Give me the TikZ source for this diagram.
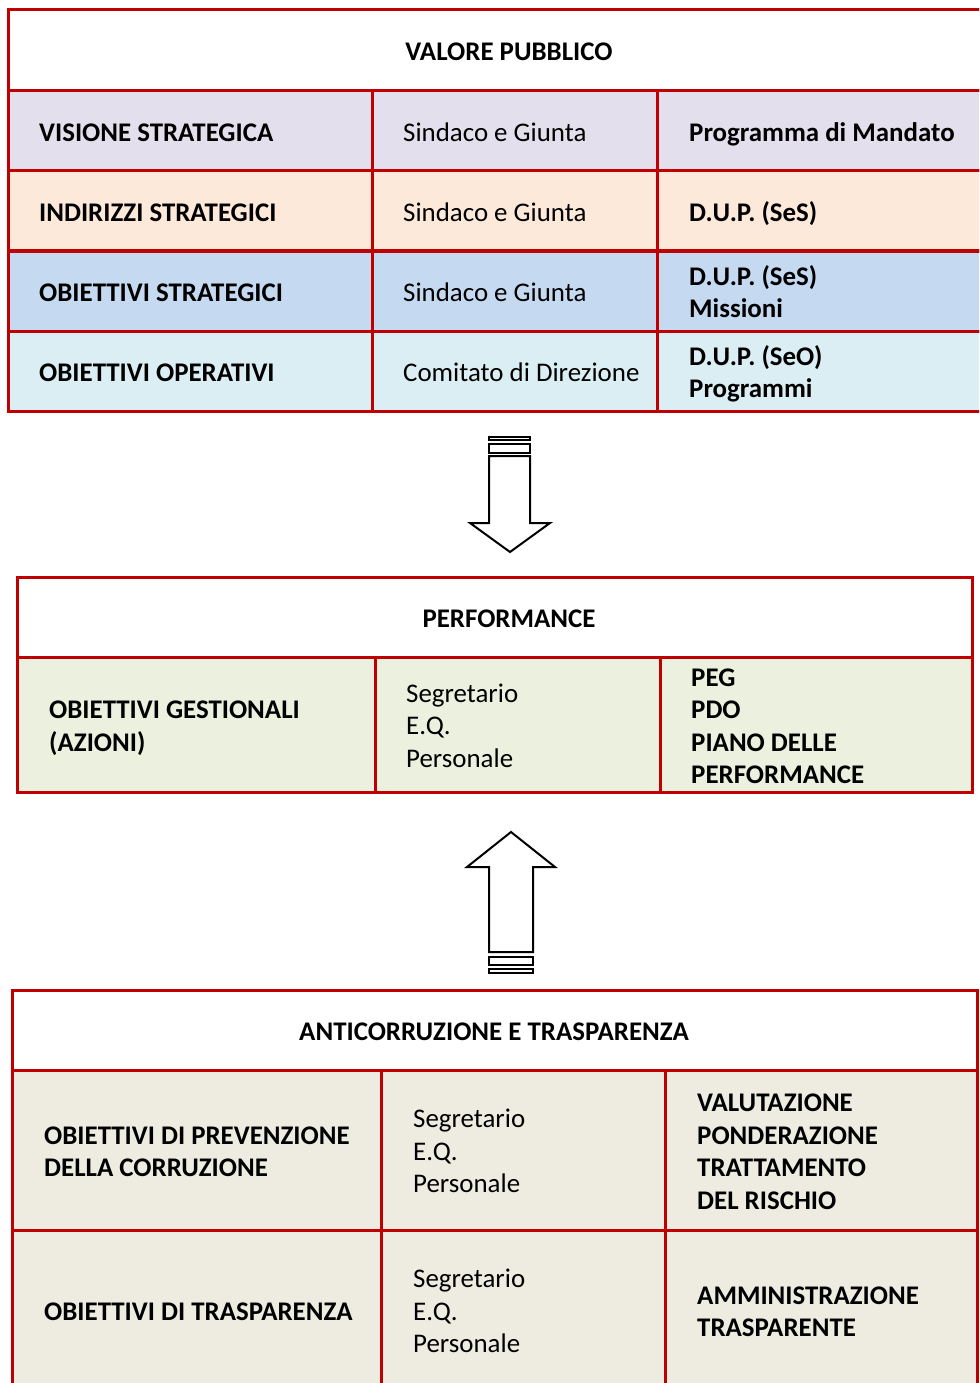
\documentclass[tikz,border=0pt]{standalone}
\usepackage{fontspec}
\setmainfont{Carlito}
\usepackage{xcolor}
\usepackage{tikz}
\usetikzlibrary{positioning}
\definecolor{tabred}{RGB}{192,0,0}
\definecolor{lilac}{RGB}{228,223,236}
\definecolor{peach}{RGB}{253,233,217}
\definecolor{skyblue}{RGB}{197,217,241}
\definecolor{paleblue}{RGB}{218,238,243}
\definecolor{palegreen}{RGB}{235,241,222}
\definecolor{beige}{RGB}{238,236,225}
\newcommand{\cellfont}{\fontsize{26.9bp}{32.5bp}\selectfont}
\newcommand{\cellstrut}{\rule[-6bp]{0pt}{32.5bp}}

\begin{document}
\begin{tikzpicture}[
      x=1bp, y=-1bp,
      cell/.style={draw=tabred, line width=3bp, anchor=north west, inner sep=0pt, outer sep=0pt},
      lbl/.style={font=\cellfont\bfseries, text width=330bp, align=flush left, inner sep=0pt, anchor=west,
        execute at begin node=\cellstrut, execute at end node=\cellstrut},
      who/.style={lbl, font=\cellfont},
      title/.style={font=\cellfont\bfseries, inner sep=0pt},
      blockarrow/.style={draw=black, line width=2bp, fill=white, line join=miter}
    ]
      \useasboundingbox (0,0) rectangle (979,1383);
      \clip (0,0) rectangle (979,1383);

      % valore pubblico
      \node[cell, fill=white, minimum width=1002bp, minimum height=81bp] (vp) at (8,10) {};
      \node[cell, fill=lilac, minimum width=364bp, minimum height=80bp] (vis) at (8,91) {};
      \node[cell, fill=lilac, minimum width=285bp, minimum height=80bp] (visWho) at (372,91) {};
      \node[cell, fill=lilac, minimum width=353bp, minimum height=80bp] (visDoc) at (657,91) {};
      \node[cell, fill=peach, minimum width=364bp, minimum height=80bp] (ind) at (8,171) {};
      \node[cell, fill=peach, minimum width=285bp, minimum height=80bp] (indWho) at (372,171) {};
      \node[cell, fill=peach, minimum width=353bp, minimum height=80bp] (indDoc) at (657,171) {};
      \node[cell, fill=skyblue, minimum width=364bp, minimum height=80bp] (obs) at (8,251) {};
      \node[cell, fill=skyblue, minimum width=285bp, minimum height=80bp] (obsWho) at (372,251) {};
      \node[cell, fill=skyblue, minimum width=353bp, minimum height=80bp] (obsDoc) at (657,251) {};
      \node[cell, fill=paleblue, minimum width=364bp, minimum height=80bp] (obo) at (8,331) {};
      \node[cell, fill=paleblue, minimum width=285bp, minimum height=80bp] (oboWho) at (372,331) {};
      \node[cell, fill=paleblue, minimum width=353bp, minimum height=80bp] (oboDoc) at (657,331) {};

      \node[title] (vpTitle) at (509,52) {VALORE PUBBLICO};
      \node[lbl, right=31bp of vis.west] (visT) {VISIONE STRATEGICA};
      \node[who, right=31bp of visWho.west] (visWhoT) {Sindaco e Giunta};
      \node[lbl, right=32bp of visDoc.west] (visDocT) {Programma di Mandato};
      \node[lbl, right=31bp of ind.west] (indT) {INDIRIZZI STRATEGICI};
      \node[who, right=31bp of indWho.west] (indWhoT) {Sindaco e Giunta};
      \node[lbl, right=32bp of indDoc.west] (indDocT) {D.U.P. (SeS)};
      \node[lbl, right=31bp of obs.west] (obsT) {OBIETTIVI STRATEGICI};
      \node[who, right=31bp of obsWho.west] (obsWhoT) {Sindaco e Giunta};
      \node[lbl, right=32bp of obsDoc.west] (obsDocT) {D.U.P. (SeS)\\Missioni};
      \node[lbl, right=31bp of obo.west] (oboT) {OBIETTIVI OPERATIVI};
      \node[who, right=31bp of oboWho.west] (oboWhoT) {Comitato di Direzione};
      \node[lbl, right=32bp of oboDoc.west] (oboDocT) {D.U.P. (SeO)\\Programmi};

      % freccia verso il basso
      \draw[blockarrow] (489,437) rectangle (530,440);
      \draw[blockarrow] (489,444) rectangle (530,453);
      \draw[blockarrow] (489,456) -- (530,456) -- (530,523) -- (550,523) -- (510,552)
        -- (470,523) -- (489,523) -- cycle;

      % performance
      \node[cell, fill=white, minimum width=955bp, minimum height=80bp] (perf) at (17,577) {};
      \node[cell, fill=palegreen, minimum width=358bp, minimum height=135bp] (ges) at (17,657) {};
      \node[cell, fill=palegreen, minimum width=285bp, minimum height=135bp] (gesWho) at (375,657) {};
      \node[cell, fill=palegreen, minimum width=312bp, minimum height=135bp] (gesDoc) at (660,657) {};

      \node[title] (perfTitle) at (509,619) {PERFORMANCE};
      \node[lbl, right=32bp of ges.west] (gesT) {OBIETTIVI GESTIONALI\\(AZIONI)};
      \node[who, right=31bp of gesWho.west] (gesWhoT) {Segretario\\E.Q.\\Personale};
      \node[lbl, right=31bp of gesDoc.west] (gesDocT) {PEG\\PDO\\PIANO DELLE\\PERFORMANCE};

      % freccia verso l'alto
      \draw[blockarrow] (511,832) -- (555,867) -- (533,867) -- (533,952) -- (489,952)
        -- (489,867) -- (467,867) -- cycle;
      \draw[blockarrow] (489,957) rectangle (533,965);
      \draw[blockarrow] (489,969) rectangle (533,973);

      % anticorruzione e trasparenza
      \node[cell, fill=white, minimum width=965bp, minimum height=80bp] (act) at (12,990) {};
      \node[cell, fill=beige, minimum width=369bp, minimum height=160bp] (prev) at (12,1070) {};
      \node[cell, fill=beige, minimum width=284bp, minimum height=160bp] (prevWho) at (381,1070) {};
      \node[cell, fill=beige, minimum width=312bp, minimum height=160bp] (prevDoc) at (665,1070) {};
      \node[cell, fill=beige, minimum width=369bp, minimum height=160bp] (tra) at (12,1230) {};
      \node[cell, fill=beige, minimum width=284bp, minimum height=160bp] (traWho) at (381,1230) {};
      \node[cell, fill=beige, minimum width=312bp, minimum height=160bp] (traDoc) at (665,1230) {};

      \node[title] (actTitle) at (494,1032) {ANTICORRUZIONE E TRASPARENZA};
      \node[lbl, right=32bp of prev.west] (prevT) {OBIETTIVI DI PREVENZIONE\\DELLA CORRUZIONE};
      \node[who, right=32bp of prevWho.west] (prevWhoT) {Segretario\\E.Q.\\Personale};
      \node[lbl, right=32bp of prevDoc.west] (prevDocT) {VALUTAZIONE\\PONDERAZIONE\\TRATTAMENTO\\DEL RISCHIO};
      \node[lbl, right=32bp of tra.west] (traT) {OBIETTIVI DI TRASPARENZA};
      \node[who, right=32bp of traWho.west] (traWhoT) {Segretario\\E.Q.\\Personale};
      \node[lbl, right=32bp of traDoc.west] (traDocT) {AMMINISTRAZIONE\\TRASPARENTE};
    \end{tikzpicture}
\end{document}
